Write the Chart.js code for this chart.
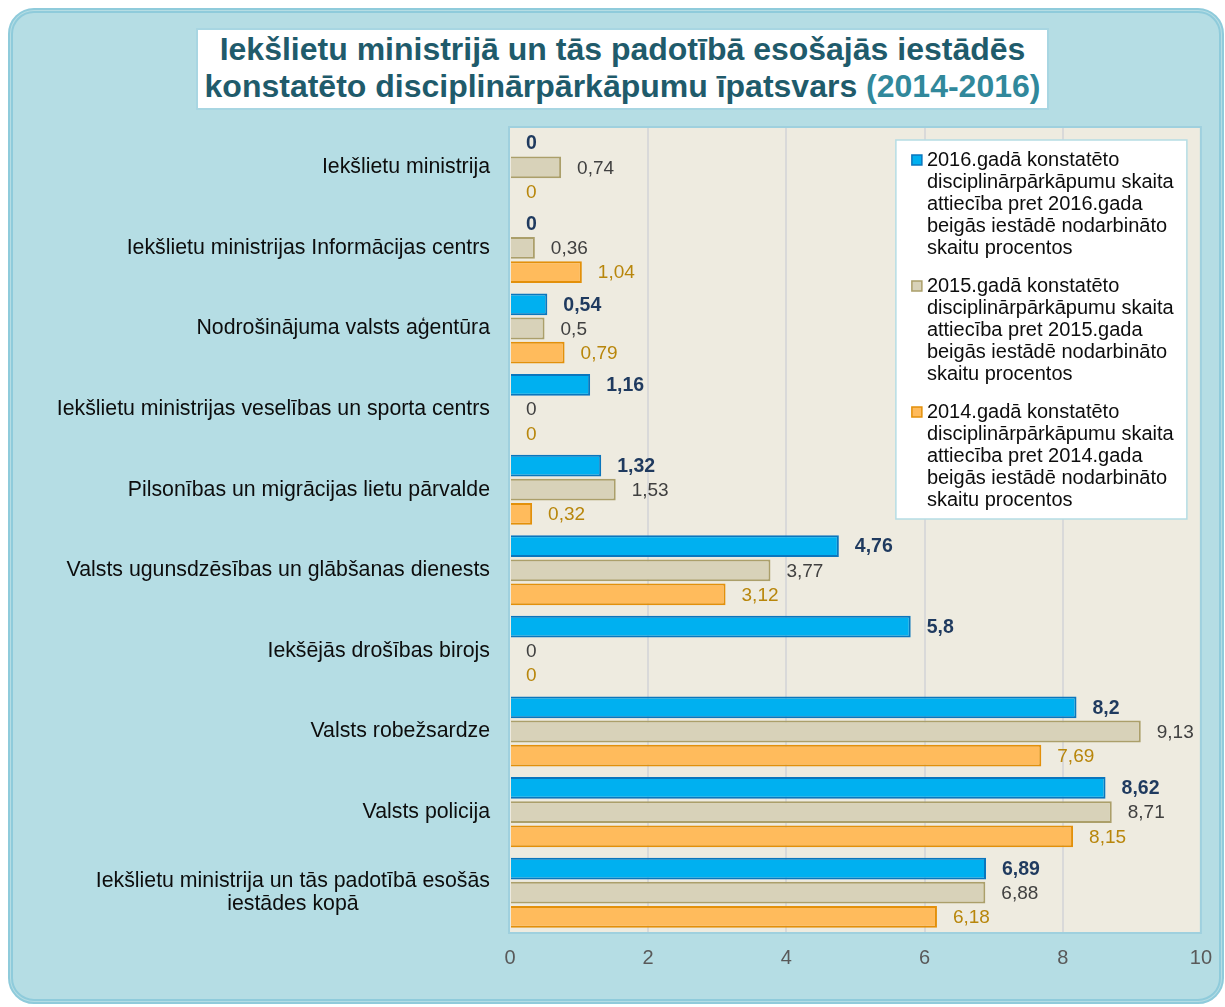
<!DOCTYPE html>
<html lang="lv">
<head>
<meta charset="utf-8">
<title>Disciplinārpārkāpumu īpatsvars (2014-2016)</title>
<script src="https://cdn.jsdelivr.net/npm/chart.js@4.4.1/dist/chart.umd.min.js"></script>
<style>
  html, body { margin: 0; padding: 0; background: #fff; width: 1225px; height: 1007px; overflow: hidden; }
  #frame {
    position: absolute; left: 8px; top: 8px; width: 1216px; height: 996px;
    box-sizing: border-box; border-radius: 26px; background: #b5dde4;
    border: 5px double #8fcbdb;
  }
  #title {
    position: absolute; left: 196px; top: 28px; width: 853px; height: 82px;
    box-sizing: border-box; background: #fff; border: 2px solid #a8d6e2;
    text-align: center; color: #1f5b6b; font: bold 32px "Liberation Sans", Arial, sans-serif;
    line-height: 37px; padding-top: 1px; white-space: nowrap;
  }
  #title span { color: #31889b; }
  #chart { position: absolute; left: 0; top: 0; }
</style>
</head>
<body>
<div id="frame"></div>
<div id="title">Iekšlietu ministrijā un tās padotībā esošajās iestādēs<br>konstatēto disciplinārpārkāpumu īpatsvars <span>(2014-2016)</span></div>
<canvas id="chart" width="1225" height="1007"></canvas>
<script>
// kategorijas (iestādes)
const categories = [
    ['Iekšlietu ministrija'],
    ['Iekšlietu ministrijas Informācijas centrs'],
    ['Nodrošinājuma valsts aģentūra'],
    ['Iekšlietu ministrijas veselības un sporta centrs'],
    ['Pilsonības un migrācijas lietu pārvalde'],
    ['Valsts ugunsdzēsības un glābšanas dienests'],
    ['Iekšējās drošības birojs'],
    ['Valsts robežsardze'],
    ['Valsts policija'],
    ['Iekšlietu ministrija un tās padotībā esošās', 'iestādes kopā']
];

const values2016 = [0, 0, 0.54, 1.16, 1.32, 4.76, 5.8, 8.2, 8.62, 6.89];
const values2015 = [0.74, 0.36, 0.5, 0, 1.53, 3.77, 0, 9.13, 8.71, 6.88];
const values2014 = [0, 1.04, 0.79, 0, 0.32, 3.12, 0, 7.69, 8.15, 6.18];

const xTicks = [0, 2, 4, 6, 8, 10];

const legend2016 = ['2016.gadā konstatēto', 'disciplinārpārkāpumu skaita', 'attiecība pret 2016.gada', 'beigās iestādē nodarbināto', 'skaitu procentos'];
const legend2015 = ['2015.gadā konstatēto', 'disciplinārpārkāpumu skaita', 'attiecība pret 2015.gada', 'beigās iestādē nodarbināto', 'skaitu procentos'];
const legend2014 = ['2014.gadā konstatēto', 'disciplinārpārkāpumu skaita', 'attiecība pret 2014.gada', 'beigās iestādē nodarbināto', 'skaitu procentos'];

const FONT = '"Liberation Sans", Arial, sans-serif';

function fmt(v) {
    return String(v).replace('.', ',');
}

// fons zīmējuma laukumam
const plotBackground = {
    id: 'plotBackground',
    beforeDraw(chart) {
        const { ctx, chartArea: a } = chart;
        ctx.save();
        ctx.fillStyle = '#eeebe0';
        ctx.fillRect(a.left, a.top, a.right - a.left, a.bottom - a.top);
        ctx.restore();
    },
    afterDraw(chart) {
        const { ctx, chartArea: a } = chart;
        ctx.save();
        ctx.strokeStyle = '#9fd0de';
        ctx.lineWidth = 2;
        ctx.strokeRect(a.left - 1, a.top, a.right - a.left + 1, a.bottom - a.top);
        ctx.restore();
    }
};

// kategoriju nosaukumi pa kreisi
const categoryLabels = {
    id: 'categoryLabels',
    afterDraw(chart) {
        const { ctx, chartArea: a } = chart;
        const yScale = chart.scales.y;
        ctx.save();
        ctx.font = '21.3px ' + FONT;
        ctx.fillStyle = '#0d0d0d';
        ctx.textBaseline = 'middle';
        ctx.textAlign = 'center';
        const lineH = 23;
        categories.forEach((lines, i) => {
            const y = yScale.getPixelForTick(i);
            const widest = Math.max(...lines.map(l => ctx.measureText(l).width));
            const cx = a.left - 20 - widest / 2;
            const y0 = y - (lines.length - 1) * lineH / 2;
            lines.forEach((l, k) => ctx.fillText(l, cx, y0 + k * lineH));
        });
        ctx.restore();
    }
};

// vērtības pie stabiņiem
const valueLabels = {
    id: 'valueLabels',
    afterDatasetsDraw(chart) {
        const ctx = chart.ctx;
        chart.data.datasets.forEach((ds, i) => {
            const meta = chart.getDatasetMeta(i);
            ctx.save();
            ctx.font = ds.labelFont;
            ctx.fillStyle = ds.labelColor;
            ctx.textBaseline = 'middle';
            ctx.textAlign = 'left';
            meta.data.forEach((bar, j) => {
                ctx.fillText(fmt(ds.data[j]), bar.x + 16, bar.y + 1);
            });
            ctx.restore();
        });
    }
};

// leģenda baltā rāmī
const boxLegend = {
    id: 'boxLegend',
    afterDraw(chart) {
        const { ctx, chartArea: a } = chart;
        const left = a.right - 305, top = a.top + 13;
        const w = 291, h = 379;
        ctx.save();
        ctx.fillStyle = '#fff';
        ctx.fillRect(left, top, w, h);
        ctx.strokeStyle = '#b5dde4';
        ctx.lineWidth = 1.5;
        ctx.strokeRect(left, top, w, h);
        ctx.font = '20px ' + FONT;
        ctx.textBaseline = 'middle';
        let y = top + 20;
        chart.data.datasets.forEach(ds => {
            ctx.fillStyle = ds.backgroundColor;
            ctx.strokeStyle = ds.borderColor;
            ctx.lineWidth = 1.5;
            ctx.fillRect(left + 16, y - 5, 10, 10);
            ctx.strokeRect(left + 16, y - 5, 10, 10);
            ctx.fillStyle = '#0d0d0d';
            ds.legendLines.forEach((l, k) => ctx.fillText(l, left + 31, y + k * 22));
            y += ds.legendLines.length * 22 + 16;
        });
        ctx.restore();
    }
};

const barBorder = c => (c.raw === 0 ? 0 : 2);

new Chart(document.getElementById('chart').getContext('2d'), {
    type: 'bar',
    data: {
        labels: categories.map(c => c.join(' ')),
        datasets: [{
            label: '2016',
            data: values2016,
            backgroundColor: '#00b0f0',
            borderColor: '#0a76bd',
            borderWidth: barBorder,
            labelColor: '#1f3a5f',
            labelFont: 'bold 19.5px ' + FONT,
            legendLines: legend2016
        }, {
            label: '2015',
            data: values2015,
            backgroundColor: '#d8d2b9',
            borderColor: '#ab9f6a',
            borderWidth: barBorder,
            labelColor: '#404040',
            labelFont: '19px ' + FONT,
            legendLines: legend2015
        }, {
            label: '2014',
            data: values2014,
            backgroundColor: '#ffbb5c',
            borderColor: '#e3900a',
            borderWidth: barBorder,
            labelColor: '#b8860b',
            labelFont: '19px ' + FONT,
            legendLines: legend2014
        }]
    },
    options: {
        responsive: false,
        animation: false,
        indexAxis: 'y',
        layout: { padding: { top: 127, right: 22, bottom: 24, left: 0 } },
        datasets: { bar: { categoryPercentage: 0.9, barPercentage: 0.9 } },
        plugins: {
            legend: { display: false },
            tooltip: { enabled: false }
        },
        scales: {
            x: {
                min: xTicks[0],
                max: xTicks[xTicks.length - 1],
                afterBuildTicks: s => { s.ticks = xTicks.map(v => ({ value: v })); },
                ticks: {
                    color: '#595959',
                    padding: 13,
                    font: { family: '"Liberation Sans Narrow", "Liberation Sans", Arial, sans-serif', size: 20 }
                },
                grid: {
                    color: c => (c.tick && (c.tick.value === 0 || c.tick.value === 10) ? 'rgba(0,0,0,0)' : '#d9d9d9'),
                    lineWidth: 2,
                    drawTicks: false
                },
                border: { display: false },
                afterFit: s => { s.height = 50; }
            },
            y: {
                ticks: { display: false },
                grid: { display: false },
                border: { display: false },
                afterFit: s => { s.width = 510; }
            }
        }
    },
    plugins: [plotBackground, categoryLabels, valueLabels, boxLegend]
});
</script>
</body>
</html>
